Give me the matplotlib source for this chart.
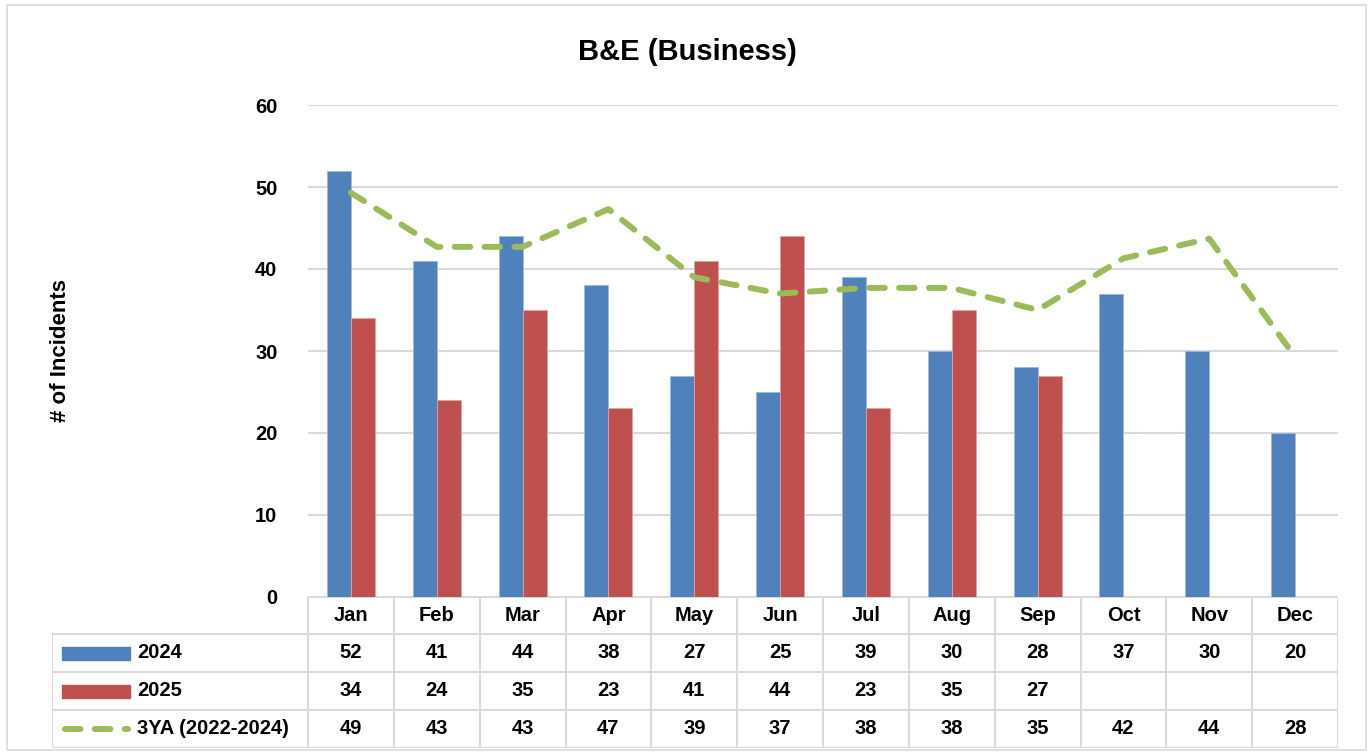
"""B&E (Business) - incidentes mensais com tabela de dados estilo Excel."""
import matplotlib
matplotlib.use("Agg")
import matplotlib.pyplot as plt
from matplotlib.patches import Rectangle
from matplotlib.lines import Line2D

# dados
months = ["Jan", "Feb", "Mar", "Apr", "May", "Jun", "Jul", "Aug", "Sep", "Oct", "Nov", "Dec"]
y2024 = [52, 41, 44, 38, 27, 25, 39, 30, 28, 37, 30, 20]
y2025 = [34, 24, 35, 23, 41, 44, 23, 35, 27]
avg3 = [49.3, 42.7, 42.7, 47.3, 39.0, 37.0, 37.7, 37.7, 35.0, 41.3, 43.7, 29.3]
avg3_labels = [49, 43, 43, 47, 39, 37, 38, 38, 35, 42, 44, 28]
series_names = ["2024", "2025", "3YA (2022-2024)"]

_BLUE = "#4F81BD"
_RED = "#C0504D"
_GREEN = "#9BBB59"
_GRID = "#D9D9D9"
_DASH = (0, (2.6, 2.4))

plt.rcParams["font.family"] = ["Liberation Sans", "DejaVu Sans"]
plt.rcParams["font.weight"] = "bold"

W, H = 1368, 755
fig = plt.figure(figsize=(W / 100, H / 100), dpi=100)


def fx(px):
    return px / W


def fy(py):
    return 1 - py / H


# moldura externa
fig.patches.append(Rectangle((fx(7), fy(750)), fx(1366) - fx(7), fy(5) - fy(750),
                             transform=fig.transFigure, fill=False,
                             edgecolor=_GRID, lw=1.2))

# ---------------------------------------------------------------------------
# gráfico
# ---------------------------------------------------------------------------
x0, x1, ytop, ybot = 308, 1338, 105, 597
ax = fig.add_axes([fx(x0), fy(ybot), fx(x1) - fx(x0), fy(ytop) - fy(ybot)])
xs = list(range(len(months)))
bw = 0.28
ax.bar([x - bw / 2 for x in xs], y2024, width=bw, color=_BLUE,
       edgecolor="#9DB9DD", lw=0.6, zorder=3)
ax.bar([x + bw / 2 for x in range(len(y2025))], y2025, width=bw, color=_RED,
       edgecolor="#E0A3A1", lw=0.6, zorder=3)
ax.plot(xs, avg3, color=_GREEN, lw=4.3, ls=_DASH,
        dash_capstyle="round", solid_joinstyle="round", zorder=4)

ax.set_xlim(-0.5, len(months) - 0.5)
ax.set_ylim(0, 60)
ax.set_yticks(range(0, 61, 10))
ax.set_xticks([])
ax.grid(axis="y", color=_GRID, lw=1.5, zorder=0)
for s in ax.spines.values():
    s.set_visible(False)
ax.tick_params(axis="y", length=0, pad=22, labelsize=14.5)
for t in ax.get_yticklabels():
    t.set_fontweight("bold")

fig.text(fx(687), fy(52), "B&E (Business)", ha="center", va="center",
         fontsize=21, fontweight="bold")
fig.text(fx(60), fy(351), "# of Incidents", rotation=90, ha="center",
         va="center", fontsize=16, fontweight="bold")

# ---------------------------------------------------------------------------
# tabela de dados
# ---------------------------------------------------------------------------
tx0, ty_rows = 52, [597, 634, 672, 710, 748]
tab = fig.add_axes([fx(tx0), fy(748), fx(x1) - fx(tx0), fy(597) - fy(748)])
tab.set_xlim(tx0, x1)
tab.set_ylim(748, 597)
tab.axis("off")

colw = (x1 - x0) / len(months)
# linhas horizontais
tab.plot([x0, x1], [ty_rows[0]] * 2, color=_GRID, lw=1.5)
for yy in ty_rows[1:]:
    tab.plot([tx0, x1], [yy] * 2, color=_GRID, lw=1.5)
# linhas verticais
for i in range(len(months) + 1):
    xx = x0 + i * colw
    tab.plot([xx, xx], [ty_rows[0], ty_rows[-1]], color=_GRID, lw=1.5)
tab.plot([tx0, tx0], [ty_rows[1], ty_rows[-1]], color=_GRID, lw=1.5)

cell_kw = dict(ha="center", va="center", fontsize=14.5, fontweight="bold")
for i, m in enumerate(months):
    cx = x0 + (i + 0.5) * colw
    tab.text(cx, (ty_rows[0] + ty_rows[1]) / 2, m, **cell_kw)
    tab.text(cx, (ty_rows[1] + ty_rows[2]) / 2, str(y2024[i]), **cell_kw)
    if i < len(y2025):
        tab.text(cx, (ty_rows[2] + ty_rows[3]) / 2, str(y2025[i]), **cell_kw)
    tab.text(cx, (ty_rows[3] + ty_rows[4]) / 2, str(avg3_labels[i]), **cell_kw)

# legenda dentro da tabela
for r, (name, col) in enumerate(zip(series_names, [_BLUE, _RED, _GREEN])):
    cy = (ty_rows[r + 1] + ty_rows[r + 2]) / 2
    if r < 2:
        tab.add_patch(Rectangle((62, cy - 6.5), 68, 13, color=col))
    else:
        tab.add_line(Line2D([65, 128], [cy, cy], color=col, lw=4.3,
                            ls=_DASH, dash_capstyle="round"))
    tab.text(137, cy, name, ha="left", va="center", fontsize=14.5,
             fontweight="bold")

fig.savefig("out.png", dpi=100)
